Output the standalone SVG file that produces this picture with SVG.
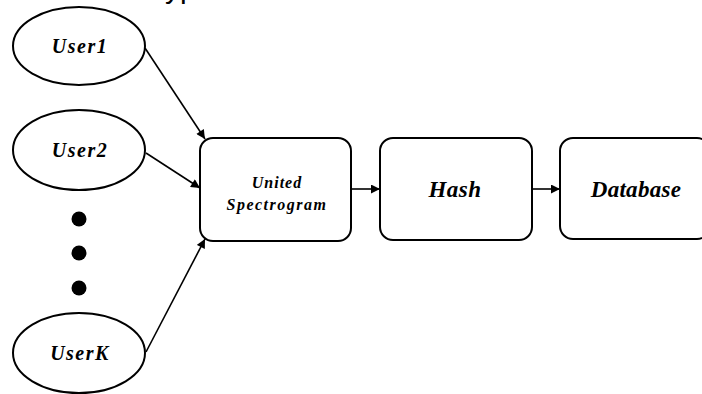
<svg xmlns="http://www.w3.org/2000/svg" width="702" height="394" viewBox="0 0 702 394">
<defs>
<style>
.ell{fill:#fff;stroke:#000;stroke-width:2}
.box{fill:#fff;stroke:#000;stroke-width:2}
.lbl{font-family:'Liberation Serif','DejaVu Serif',serif;font-weight:700;font-style:italic;fill:#000;text-anchor:middle}
.edge{stroke:#000;stroke-width:1.6;fill:none;marker-end:url(#ah)}
</style>
<marker id="ah" viewBox="0 0 10 10" refX="10" refY="5" markerWidth="11" markerHeight="9" markerUnits="userSpaceOnUse" orient="auto">
<path d="M0,0 L10,5 L0,10 z" fill="#000"/>
</marker>
</defs>
<rect width="702" height="394" fill="#fff"/>
<text x="165" y="-2" font-family="'Liberation Sans',Arial,sans-serif" font-size="30" fill="#000">yp</text>
<g id="connectors">
<line class="edge" x1="145" y1="48" x2="205" y2="139"/>
<line class="edge" x1="146" y1="153" x2="200" y2="188"/>
<line class="edge" x1="146" y1="352" x2="205" y2="239"/>
<line class="edge" x1="351" y1="189" x2="380" y2="189"/>
<line class="edge" x1="532" y1="189" x2="560" y2="189"/>
</g>
<g id="user1">
<ellipse class="ell" cx="79" cy="46" rx="66" ry="39"/>
<text class="lbl" x="80" y="53" font-size="20" letter-spacing="1.5">User1</text>
</g>
<g id="user2">
<ellipse class="ell" cx="79" cy="150" rx="66" ry="40"/>
<text class="lbl" x="80" y="157" font-size="20" letter-spacing="1.5">User2</text>
</g>
<g id="dots">
<circle cx="79" cy="219" r="7.5" fill="#000"/>
<circle cx="79" cy="253" r="7.5" fill="#000"/>
<circle cx="79" cy="288" r="7.5" fill="#000"/>
</g>
<g id="userK">
<ellipse class="ell" cx="79" cy="353" rx="66" ry="40"/>
<text class="lbl" x="80" y="360" font-size="20" letter-spacing="1.5">UserK</text>
</g>
<g id="spectrogram">
<rect class="box" x="200" y="138" width="151" height="103" rx="13"/>
<text class="lbl" x="277" y="188" font-size="16" letter-spacing="1">United</text>
<text class="lbl" x="277" y="210" font-size="16" letter-spacing="1.5">Spectrogram</text>
</g>
<g id="hash">
<rect class="box" x="380" y="138" width="152" height="102" rx="13"/>
<text class="lbl" x="455" y="197" font-size="23" letter-spacing="0.5">Hash</text>
</g>
<g id="database">
<rect class="box" x="560" y="138" width="150" height="101" rx="13"/>
<text class="lbl" x="636" y="197" font-size="23" letter-spacing="0.3">Database</text>
</g>
</svg>
